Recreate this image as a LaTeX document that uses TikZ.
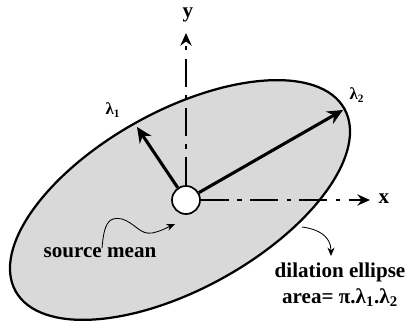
\documentclass[tikz,border=0pt]{standalone}
\usepackage{fontspec}
\setmainfont{Liberation Serif}
\usetikzlibrary{arrows.meta}
\begin{document}
\begin{tikzpicture}[x=.025cm,y=.025cm,
    lbl/.style={font=\fontsize{15}{17}\selectfont\bfseries,inner sep=1pt},
    eig/.style={font=\fontsize{12}{14}\selectfont\bfseries,inner sep=1pt},
    axis/.style={line width=2pt,dash pattern=on 20pt off 6pt on 3pt off 6pt,-{Stealth[length=9pt,width=8pt]}},
    vec/.style={line width=2.2pt,-{Stealth[length=11pt,width=10pt]}},
    note/.style={line width=.6pt,-{Stealth[length=6pt,width=5pt]}}]
\useasboundingbox (0,0) rectangle (409,331);
% dilation ellipse
\filldraw[fill=gray!30,draw=black,line width=1.6pt,rotate around={29:(180,131)}]
  (180,131) ellipse [x radius=188,y radius=89];
\coordinate (rim) at (302,104);
\node[circle,draw,fill=white,line width=1.2pt,minimum size=.7cm,inner sep=0pt] (mean) at (186,131) {};
% axes
\coordinate (xend) at (370,131);
\coordinate (yend) at (186,298);
\node[lbl] (xlab) at (384,132) {x};
\node[lbl] (ylab) at (188,316) {y};
\draw[axis] (mean.east) -- (xend);
\draw[axis] (mean.north) -- (yend);
% eigen vectors
\coordinate (l1tip) at (137,204);
\coordinate (l2tip) at (343,221);
\draw[vec] (mean) -- (l1tip);
\draw[vec] (mean) -- (l2tip);
\node[eig] (l1lab) at (113,221) {λ\textsubscript{1}};
\node[eig] (l2lab) at (357,236) {λ\textsubscript{2}};
% labels
\node[lbl] (src) at (100,78) {source mean};
\node[lbl] (dil) at (340,59) {dilation ellipse};
\node[lbl] (area) at (340,33) {area= π.λ\textsubscript{1}.λ\textsubscript{2}};
\coordinate (srctip) at (175,107);
\coordinate (diltip) at (331,75);
\draw[note] (src.north) ++(2,-2) .. controls +(2,24) and (108,115) .. (122,112)
  .. controls (135,108) and (140,96) .. (152,98) .. controls (162,100) and (168,104) .. (srctip);
\draw[note] (rim) .. controls (318,102) and (331,95) .. (diltip);
\end{tikzpicture}
\end{document}
